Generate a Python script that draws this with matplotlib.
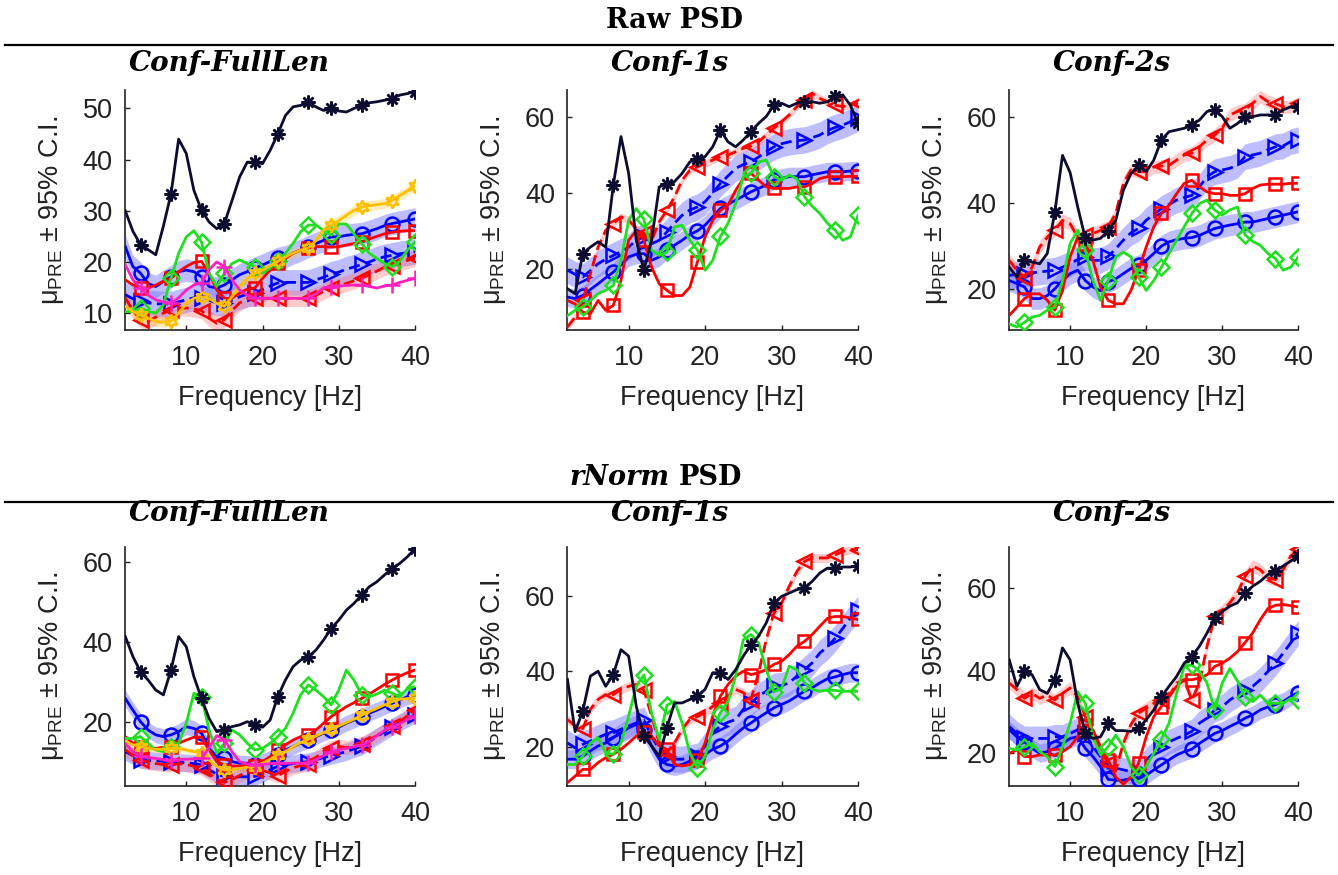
import matplotlib
matplotlib.use("Agg")
import numpy as np
import matplotlib.pyplot as plt
from matplotlib.lines import Line2D

plt.rcParams['font.family'] = ['Liberation Sans', 'DejaVu Sans']
plt.rcParams['mathtext.default'] = 'regular'

# ---------------- data ----------------
freq_hz = [2, 3, 4, 5, 6, 7, 8, 9, 10, 11, 12, 13, 14, 15, 16, 17, 18, 19, 20,
           21, 22, 23, 24, 25, 26, 27, 28, 29, 30, 31, 32, 33, 34, 35, 36, 37,
           38, 39, 40]
marker_freqs = [4, 8, 12, 15, 19, 22, 26, 29, 33, 37, 40]
x_ticks = [10, 20, 30, 40]

section_titles = ['Raw', 'rNorm']
panel_titles = ['Conf-FullLen', 'Conf-1s', 'Conf-2s']

# Raw PSD, Conf-FullLen
raw_full_black = [30, 26, 23.4, 22.4, 21.4, 27, 33.3, 44, 41.2, 34, 30.1, 27.8, 26.5, 27.5, 32, 36.6, 39.5, 39.5, 39.2, 41.8, 45, 48.6, 50.3, 50.6, 51.2, 50.3, 49.6, 50, 49.5, 49.3, 50, 50.6, 51.1, 51.3, 51.6, 51.9, 52.6, 52.9, 53.3]
raw_full_blue_o = [23, 19.1, 17.8, 15.8, 15.2, 16.2, 17.1, 18.1, 18.4, 18.1, 17.1, 15.2, 14.9, 15.5, 16.5, 17.5, 18.1, 18.8, 19.4, 20.1, 20.7, 21, 21.7, 22.3, 23, 23.6, 24.2, 24.9, 24.9, 25.2, 25.4, 25.5, 26, 26.5, 27.1, 27.5, 27.8, 28.1, 28.4]
raw_full_red_sq = [16.5, 15.5, 14.9, 14.9, 15.5, 16.2, 16.8, 18.1, 19.1, 19.9, 20.1, 17.8, 14.5, 12.9, 12.9, 13.9, 14.7, 14.9, 16.8, 18.4, 19.7, 20.7, 21.7, 22.3, 22.7, 23, 23, 22.9, 23, 23.3, 23.6, 23.9, 24.5, 25, 25.5, 25.8, 26, 26.1, 26.1]
raw_full_green = [10.3, 10.3, 11, 10.3, 10, 11.6, 16.8, 21.7, 24.9, 26.1, 23.9, 17.8, 15.2, 17.8, 19.7, 20.4, 19.7, 19.1, 17.8, 18.8, 20.1, 21.7, 23.6, 25.9, 27.2, 27.2, 26.2, 25.2, 27.4, 27.4, 25.5, 23.6, 21.7, 20.7, 19.7, 19.1, 20.1, 22.3, 23.9]
raw_full_yellow = [11.3, 10.3, 9.7, 9, 8.4, 8.2, 8.4, 10, 11.9, 12.9, 13.2, 12.9, 11.9, 11.3, 13.2, 15.2, 16.8, 17.8, 18.4, 19.2, 20.1, 21, 21.7, 22.3, 22.7, 24.2, 26.2, 27.2, 28.1, 29.1, 30.1, 30.7, 31, 31.2, 31.4, 32, 33, 33.9, 34.9]
raw_full_blue_tri = [13.6, 12.8, 12.3, 12, 11.8, 11.8, 11.8, 12.2, 12.6, 13, 13, 12.5, 12, 12, 12.5, 13.2, 13.7, 14, 14.6, 15.3, 15.9, 16, 16, 16, 16, 16.5, 17, 17.6, 18, 18.6, 19, 19.5, 20, 20.6, 21, 21.3, 21.6, 21.8, 22]
raw_full_red_tri = [13, 10.5, 8.7, 8.5, 9.2, 10, 10.6, 11, 11, 10.8, 10.5, 9, 8, 8.7, 10.5, 12, 12.8, 12.9, 12.9, 12.9, 12.9, 12.9, 12.9, 12.9, 12.9, 13.5, 14.2, 14.9, 15.3, 15.8, 16.3, 16.8, 17.5, 18.2, 19, 19.3, 19.8, 20.3, 20.7]
raw_full_magenta = [19.5, 16.5, 14.9, 13.5, 12.6, 12.2, 11.9, 13, 14.5, 15.5, 15.9, 18.5, 20, 19.1, 16.5, 14.5, 13.5, 12.9, 12.9, 12.9, 12.9, 12.9, 12.9, 12.9, 12.9, 13.8, 14.9, 15.2, 15.3, 15.4, 15.5, 15.5, 15.2, 14.9, 15.3, 15.5, 16, 16.4, 16.8]

# Raw PSD, Conf-1s
raw_1s_black = [14.7, 13.4, 24, 25.7, 27.1, 25.7, 42.1, 54.9, 45.2, 27.5, 19.6, 27.5, 41.6, 42.5, 43, 45.2, 48.2, 49.1, 49.6, 52.2, 56.6, 53.5, 52.2, 54, 56.2, 58.4, 60.2, 63.2, 63.7, 62.8, 63.7, 64.1, 64.1, 63.7, 64.1, 65.5, 65.9, 63.2, 58.4]
raw_1s_red_tri = [4.6, 7.2, 11.6, 18.7, 25.7, 30.1, 31.9, 33.7, 32.8, 30.6, 29.3, 27.5, 32.4, 35.4, 39, 43.4, 46, 46.9, 47.8, 48.7, 49.6, 50, 50.9, 51.8, 52.4, 53.5, 55.3, 57.1, 58.8, 60.6, 62.8, 64.6, 66.3, 65, 64.1, 63.2, 62.8, 63.2, 63.7]
raw_1s_blue_tri = [19.6, 18.5, 17.8, 19.5, 21.3, 22.5, 23.5, 24.5, 25.7, 27.5, 28.4, 26.6, 27.5, 29.7, 32, 34.1, 35.5, 36.3, 37.7, 40, 42.5, 44.5, 46.5, 47.5, 48.2, 49.5, 50.9, 52.2, 53, 53.5, 53.8, 54, 54.6, 55.3, 56.5, 57.3, 57.9, 58.8, 59.7]
raw_1s_blue_o = [12.5, 12.1, 12.9, 14.5, 16, 17.6, 19.1, 21, 23.1, 23.8, 24, 22.2, 23.1, 24.9, 26.2, 27.5, 29, 30, 31.5, 33.7, 35.9, 37, 38.1, 39.2, 40.3, 41.2, 42.1, 43.5, 43.9, 44.3, 44.3, 44.3, 44.8, 45.2, 45.6, 45.6, 45.6, 45.8, 45.9]
raw_1s_red_sq = [11.6, 10.7, 8.5, 8.1, 11.6, 9, 10.3, 16.9, 27.5, 30.1, 27.5, 20.4, 16, 14.3, 12.9, 12.9, 15.1, 21.8, 28.4, 32.8, 35.4, 36.8, 40.7, 43.8, 45.2, 43.4, 41.6, 41.2, 41.2, 41.2, 41.6, 41.6, 42.5, 43.8, 44.3, 44.3, 44.3, 44.4, 44.4]
raw_1s_green = [7.6, 9, 9.9, 11.6, 13.4, 14.3, 15.6, 22.2, 32.8, 35.9, 33, 24.9, 23.5, 24.4, 31, 31.5, 27.5, 24.9, 19.6, 22.2, 28.5, 32, 37.2, 44.3, 45.2, 48.2, 48.7, 44.3, 43.4, 44.7, 43.8, 39, 36.5, 34.6, 32, 30.2, 27.5, 28.4, 34.1]

# Raw PSD, Conf-2s
raw_2s_black = [25, 22.7, 26.6, 26.2, 25.8, 28.2, 37.9, 51, 47, 39, 31.7, 31.3, 31.7, 33.5, 35.9, 42.9, 46.8, 48.7, 47.2, 49.9, 54.6, 56.5, 56.9, 57.3, 58.1, 59.2, 61.2, 61.6, 60, 57.3, 58.4, 60, 60, 60.4, 60.4, 60.4, 61.6, 62.3, 62.3]
raw_2s_red_tri = [26.6, 24.3, 22.6, 25, 29.7, 32, 33.6, 35.9, 35.1, 32, 32.4, 32.8, 33.6, 34.4, 37.5, 44.5, 47.6, 47.2, 47.2, 48.3, 48.5, 48.7, 49.9, 51.1, 51.5, 53, 54.6, 55.7, 57.3, 60.4, 61.2, 61.6, 63.1, 64.7, 63.5, 63, 62.3, 62.3, 63.1]
raw_2s_blue_tri = [23.1, 23.3, 23.5, 23.7, 23.9, 24.1, 24.3, 25, 25.8, 26.8, 27.4, 26.6, 26.6, 27.5, 29.3, 31.3, 33, 34, 35.9, 37.3, 38.6, 39.6, 40.6, 41.2, 41.7, 43.7, 46, 47.2, 47.6, 48, 48.7, 50.7, 51.1, 51.5, 52.3, 53, 53.2, 54.2, 54.6]
raw_2s_blue_o = [21.9, 21.2, 20.4, 17.7, 17.7, 18.4, 20, 21.9, 23.5, 24.3, 21.9, 20.4, 19.5, 21.6, 22.3, 23.5, 24.7, 25.4, 26.6, 28.2, 29.9, 30.9, 31.4, 31.7, 31.9, 32.4, 33.2, 34, 34.4, 34.8, 35.1, 35.5, 35.5, 35.9, 36.3, 36.7, 37.1, 37.5, 37.9]
raw_2s_red_sq = [13.8, 15.7, 17.7, 18.8, 18.8, 17.3, 15, 19.6, 27.4, 32, 30.5, 26.6, 20.4, 17.3, 16.5, 16.5, 19.6, 24.3, 29.7, 34.4, 37.5, 39.4, 42.1, 44.5, 45.2, 43.7, 42.5, 42.1, 42.1, 41.7, 41.7, 42.1, 43.3, 44.1, 44.3, 44.3, 44.3, 44.5, 44.5]
raw_2s_green = [11.8, 11.1, 12.2, 13.4, 13.8, 15, 15.7, 21.9, 30.5, 33.6, 28.9, 21.9, 17.3, 21.9, 27.4, 28.5, 27.4, 22.7, 19.6, 21.9, 25, 28.2, 31.3, 34.4, 37.5, 39.8, 40.6, 38.3, 37.1, 38.3, 39, 32.5, 31, 30.1, 28.2, 27, 24.3, 25, 27.4]

# rNorm PSD, Conf-FullLen
rn_full_black = [41.3, 36.3, 32.5, 30.4, 27.9, 26.7, 32.9, 41.3, 38.75, 31.25, 25.8, 20.8, 17.5, 17.9, 18.75, 19.2, 20, 19.2, 18.6, 20.4, 26.25, 30.4, 33.75, 35.4, 36.25, 37.9, 40.4, 43.3, 45.4, 47.9, 49.6, 51.7, 53.75, 55, 56.7, 58.3, 59.6, 61.25, 63.3]
rn_full_blue_o = [25.8, 22.9, 20, 17.9, 16.7, 16.25, 16.7, 17.5, 18.75, 18.3, 17.1, 13.3, 11.25, 10.8, 10, 9.6, 9.6, 9.2, 10, 10.8, 11.7, 12.9, 13.75, 14.6, 15.4, 16.25, 17.1, 17.9, 18.6, 19.6, 20.4, 21.25, 22.1, 22.9, 23.75, 24.6, 25.4, 26.25, 26.7]
rn_full_yellow = [15, 14.2, 13.75, 13.3, 13.1, 13.1, 13.3, 13.3, 12.9, 12.5, 12.1, 10.4, 8.75, 7.9, 7.9, 8.3, 8.6, 8.75, 9.6, 10.6, 11.7, 12.5, 13.75, 14.75, 15.6, 16.4, 17.25, 18.1, 18.9, 19.75, 20.6, 21.6, 22.5, 23.3, 24.2, 25, 25.6, 25.8, 25.8]
rn_full_red_sq = [16.25, 14.6, 13.75, 13.3, 13.3, 13.6, 13.75, 14.6, 15.4, 16.1, 16.1, 12.9, 10, 9.2, 8.9, 8.9, 8.9, 8.9, 10, 11.25, 12.9, 14.2, 15.4, 16.25, 16.7, 17.9, 19.6, 21.25, 22.5, 23.75, 24.75, 25.8, 26.9, 28.1, 29.3, 30.4, 31.4, 32.25, 32.9]
rn_full_green = [15.8, 15.8, 16.25, 14.6, 12.9, 12.5, 13.75, 14.6, 19.6, 27.1, 26.25, 17.9, 12.1, 14.6, 17.9, 16.7, 14.6, 12.9, 13.3, 14.6, 16.25, 18.3, 22.1, 26.7, 29.2, 27.9, 26.25, 24.2, 27.9, 32.9, 30.4, 26.7, 26.25, 26.9, 27.9, 27.1, 26.25, 28.3, 28.75]
rn_full_blue_tri = [12.5, 11.5, 10.5, 10.3, 10.2, 10.1, 10, 9.8, 9.7, 9.5, 9.2, 8, 6.8, 6.3, 6.2, 6.2, 6.2, 6.3, 7, 8, 8.8, 9.2, 9.5, 9.8, 10, 10.5, 11, 11.5, 12, 12.5, 13.2, 13.8, 15, 16.3, 17.5, 18.7, 19.8, 20.8, 21.7]
rn_full_red_tri = [13, 11.5, 10.4, 9.8, 9.5, 9.3, 9.2, 9.5, 9.3, 8.8, 8.4, 7, 5.5, 4.8, 5.5, 6.5, 7.5, 8, 7.8, 7.2, 6.5, 7.5, 8.5, 9, 9.5, 11, 12.5, 13.5, 13.8, 13.5, 14, 14.5, 15.5, 16.5, 17.8, 18.8, 20, 21.5, 23]
rn_full_magenta = [14.5, 12.5, 11.3, 11, 10.8, 10.5, 10.4, 10.5, 10.6, 10.7, 10.8, 13.5, 16.5, 15.5, 12.5, 10, 9.4, 9.2, 9.3, 9.5, 9.6, 9.6, 9.6, 9.6, 9.7, 10.5, 11.5, 12.5, 13, 13.3, 13.7, 14.2, 15, 16.5, 17.8, 18.7, 19.5, 20.5, 21.3]

# rNorm PSD, Conf-1s
rn_1s_black = [37.8, 24, 29.4, 38.7, 40, 36, 39.1, 45.7, 44, 30.7, 22.8, 20.2, 17.5, 25, 31.6, 31.6, 32.5, 33.4, 35.2, 39.6, 39.6, 37.8, 40.4, 44, 47, 49.3, 52.8, 58, 59.8, 60.7, 61.6, 62, 63.8, 66, 67.3, 67.3, 67.6, 67.6, 67.9]
rn_1s_red_tri = [27.2, 25.5, 24.8, 29.9, 32.5, 33.8, 33.8, 35.2, 36, 36.5, 35, 28.1, 21, 18.4, 21, 24.6, 27.2, 28, 29, 30.7, 31.6, 33.4, 35.2, 34.3, 32.5, 39.6, 48.4, 55.4, 58, 62.5, 66.4, 69.1, 70, 70, 70, 70.8, 71.7, 72.2, 72.2]
rn_1s_blue_tri = [21, 19.7, 20.6, 21.5, 22.4, 23.3, 23.7, 24.6, 25.5, 26.3, 27, 22.8, 19.3, 17.5, 16.7, 16.7, 17, 17.5, 20.2, 23.7, 25.5, 26.5, 27.2, 29.9, 31.6, 33.4, 34.7, 36, 36.2, 36.9, 38.7, 40.4, 42.2, 44.8, 46.5, 48.7, 51.3, 54.1, 56.3]
rn_1s_blue_o = [16.7, 16.7, 17.5, 18.9, 20.2, 21, 22.4, 23.7, 25, 25.9, 24.5, 20.2, 16.7, 15.3, 14.9, 15.3, 16.2, 17.1, 18, 19.3, 20.2, 21.5, 23.3, 25, 26.3, 27.7, 29, 30.3, 31.2, 32.1, 33.4, 34.7, 35.6, 36.9, 38, 38.5, 39.1, 39.6, 39.6]
rn_1s_red_sq = [10.5, 12.2, 14, 14, 15.8, 17.1, 18, 19.3, 21, 22.8, 24, 22.8, 20.2, 19.3, 15.3, 14.9, 15.3, 16.5, 21, 28.1, 33.4, 36.5, 38.7, 40, 39.1, 39.6, 40.4, 41.8, 42.6, 44.4, 46.6, 47.9, 49.7, 51.9, 54, 54.5, 54.5, 54.1, 53.7]
rn_1s_green = [15.3, 15.3, 17.5, 21, 22.4, 18.4, 18, 21, 28.1, 36, 39, 29, 21.9, 31, 32, 26.3, 18.4, 14.4, 17.5, 24.6, 29, 32, 38.7, 48.4, 49.7, 47.5, 40.4, 34.5, 35.5, 41.3, 40.4, 36.9, 35.2, 34.7, 35, 34.9, 34.7, 34.7, 34.7]

# rNorm PSD, Conf-2s
rn_2s_black = [42.6, 36.2, 39.8, 39, 35.4, 34.5, 37.8, 45.5, 42.6, 32.1, 24.8, 23.6, 24, 27.3, 25.5, 25.5, 25.3, 26.1, 28.1, 30.5, 33.7, 36.2, 38.6, 41.8, 43.4, 45.9, 49.1, 52.7, 54.3, 55.6, 56.4, 58.8, 60.4, 61.6, 63.2, 64, 65.3, 66.5, 67.7]
rn_2s_red_tri = [37, 35.4, 33.3, 34.5, 33.3, 34.1, 32.9, 34.5, 35.8, 33.7, 28.9, 24, 20.8, 17.6, 16, 22.4, 27, 29.7, 30.9, 32.1, 32.9, 33.7, 37, 37.8, 32.9, 37, 45.9, 53.1, 54.5, 56.4, 58.8, 62.8, 65.3, 64.4, 62.5, 62, 64.4, 67.7, 69.3]
rn_2s_blue_tri = [26.5, 24.8, 23.6, 23.6, 23.6, 23.6, 24, 24, 24.8, 25.7, 24.8, 21.6, 19.2, 16.4, 16.4, 16, 15.6, 15.6, 18.4, 20, 21.6, 22.8, 23.6, 24.4, 25.3, 27.3, 28.5, 30.5, 31.3, 32.9, 34.1, 35.4, 36.2, 37.8, 39.8, 41.8, 44.2, 46.7, 49.1]
rn_2s_blue_o = [25.7, 24, 22.8, 21.2, 20, 20.4, 21.2, 22.4, 23.6, 24, 21.2, 19.2, 16.8, 13.7, 13.5, 13.5, 13.9, 13.9, 14.7, 16, 17.2, 18.4, 19.6, 20.4, 21, 22.4, 23.6, 24.8, 25.5, 26.5, 27.4, 28.5, 29.3, 30.5, 31.2, 31.8, 32.5, 33.7, 34.7]
rn_2s_red_sq = [20, 20.8, 19.2, 19.2, 19.6, 19.6, 19.6, 20.4, 21.6, 24, 26.9, 25.7, 21.6, 18.4, 14.3, 12.5, 14.3, 17.6, 24, 28.9, 31.3, 33.7, 36.2, 37.8, 37.8, 38.2, 39, 41, 41.8, 43, 44.6, 46.8, 49.1, 52.3, 55, 55.8, 56, 55.7, 55.4]
rn_2s_green = [21.2, 20.8, 21.6, 22.4, 20.4, 19.2, 16.8, 21.6, 27.3, 34.9, 32.1, 24, 19.6, 21.6, 24.4, 21.6, 16.8, 14.7, 16.8, 20, 23.4, 27.3, 34.5, 41, 41.4, 39.8, 37, 30.5, 37, 40.5, 37.5, 33.7, 32.5, 34.1, 32.1, 32.1, 32.1, 33.3, 32.9]

# 95% C.I. half-widths of the shaded series
raw_full_ci = {'blue_o': 2.2, 'blue_tri': 2.5, 'red_tri': 1.6, 'yellow': 1.0}
raw_1s_ci = {'blue_o': 2.5, 'blue_tri': 3.5, 'red_tri': 1.0}
raw_2s_ci = {'blue_o': 2.5, 'blue_tri': 3.0, 'red_tri': 1.5}
rn_full_ci = {'blue_o': 2.0, 'blue_tri': 2.2, 'red_tri': 1.8, 'yellow': 0.8}
rn_1s_ci = {'blue_o': 2.5, 'blue_tri': 3.5, 'red_tri': 1.2}
rn_2s_ci = {'blue_o': 2.2, 'blue_tri': 3.0, 'red_tri': 1.5}

raw_full = {'blue_o': raw_full_blue_o, 'blue_tri': raw_full_blue_tri, 'red_tri': raw_full_red_tri,
            'red_sq': raw_full_red_sq, 'green': raw_full_green, 'yellow': raw_full_yellow,
            'magenta': raw_full_magenta, 'black': raw_full_black}
raw_1s = {'blue_o': raw_1s_blue_o, 'blue_tri': raw_1s_blue_tri, 'red_tri': raw_1s_red_tri,
          'red_sq': raw_1s_red_sq, 'green': raw_1s_green, 'black': raw_1s_black}
raw_2s = {'blue_o': raw_2s_blue_o, 'blue_tri': raw_2s_blue_tri, 'red_tri': raw_2s_red_tri,
          'red_sq': raw_2s_red_sq, 'green': raw_2s_green, 'black': raw_2s_black}
rn_full = {'blue_o': rn_full_blue_o, 'blue_tri': rn_full_blue_tri, 'red_tri': rn_full_red_tri,
           'red_sq': rn_full_red_sq, 'green': rn_full_green, 'yellow': rn_full_yellow,
           'magenta': rn_full_magenta, 'black': rn_full_black}
rn_1s = {'blue_o': rn_1s_blue_o, 'blue_tri': rn_1s_blue_tri, 'red_tri': rn_1s_red_tri,
         'red_sq': rn_1s_red_sq, 'green': rn_1s_green, 'black': rn_1s_black}
rn_2s = {'blue_o': rn_2s_blue_o, 'blue_tri': rn_2s_blue_tri, 'red_tri': rn_2s_red_tri,
         'red_sq': rn_2s_red_sq, 'green': rn_2s_green, 'black': rn_2s_black}

# ---------------- styles ----------------
dash = (0, (4, 2))
styles = {
    'blue_o':   dict(color='#0000ff', marker='o', ls='-', ms=10, z=3),
    'blue_tri': dict(color='#0000ff', marker='>', ls=dash, ms=10, z=4),
    'red_tri':  dict(color='#ff0000', marker='<', ls=dash, ms=10, z=5),
    'red_sq':   dict(color='#ff0000', marker='s', ls='-', ms=8.5, z=6),
    'green':    dict(color='#1ee01e', marker='D', ls='-', ms=8, z=7),
    'yellow':   dict(color='#ffc000', marker=(6, 1, 0), ls='-', ms=10, z=8),
    'magenta':  dict(color='#ff20c0', marker='+', ls='-', ms=11, z=9),
    'black':    dict(color='#0c0c30', marker=(8, 2, 0), ls='-', ms=10, z=10),
}
band_style = {
    'blue_o':   dict(color='#7c7cff', alpha=0.5),
    'blue_tri': dict(color='#7c7cff', alpha=0.5),
    'red_tri':  dict(color='#ff6a6a', alpha=0.35),
    'yellow':   dict(color='#ffd040', alpha=0.35),
}

W, H = 1338, 875
fig = plt.figure(figsize=(W / 100, H / 100), dpi=100)

col_left = [124.5, 566.7, 1008.5]
col_right = [415, 858, 1298.3]
row_top = [90, 547]
row_bottom = [330, 786]
title_x = [229, 670, 1112]

panels = [
    (0, 0, raw_full, raw_full_ci, (6.7, 53.6), [10, 20, 30, 40, 50]),
    (0, 1, raw_1s, raw_1s_ci, (3.8, 67.2), [20, 40, 60]),
    (0, 2, raw_2s, raw_2s_ci, (10.4, 66.2), [20, 40, 60]),
    (1, 0, rn_full, rn_full_ci, (3.9, 63.7), [20, 40, 60]),
    (1, 1, rn_1s, rn_1s_ci, (9.6, 72.9), [20, 40, 60]),
    (1, 2, rn_2s, rn_2s_ci, (12.1, 69.9), [20, 40, 60]),
]

x = np.array(freq_hz, dtype=float)
mark_idx = [freq_hz.index(f) for f in marker_freqs]
FS = 19.5

for row, col, series, ci, ylim, yticks in panels:
    l, r = col_left[col], col_right[col]
    t, b = row_top[row], row_bottom[row]
    ax = fig.add_axes([l / W, 1 - b / H, (r - l) / W, (b - t) / H])
    for key in ['blue_o', 'blue_tri', 'red_tri', 'yellow']:
        if key in ci and key in series:
            y = np.array(series[key], dtype=float)
            ax.fill_between(x, y - ci[key], y + ci[key], lw=0, zorder=1,
                            **band_style[key])
    for key in ['blue_o', 'blue_tri', 'red_tri', 'red_sq', 'green', 'yellow', 'magenta', 'black']:
        if key not in series:
            continue
        s = styles[key]
        ax.plot(x, series[key], color=s['color'], ls=s['ls'], lw=2.0,
                marker=s['marker'], ms=s['ms'], mfc='none', mec=s['color'],
                mew=1.8, markevery=mark_idx, zorder=s['z'],
                solid_joinstyle='round')
    ax.set_xlim(1.9, 40)
    ax.set_ylim(*ylim)
    ax.set_xticks(x_ticks)
    ax.set_yticks(yticks)
    for sp in ['top', 'right']:
        ax.spines[sp].set_visible(False)
    for sp in ['left', 'bottom']:
        ax.spines[sp].set_linewidth(1.2)
        ax.spines[sp].set_color('#222222')
    ax.tick_params(axis='x', direction='in', length=3.5, width=1, labelsize=FS,
                   pad=10.5, colors='#222222')
    ax.tick_params(axis='y', direction='in', length=3.5, width=1, labelsize=FS,
                   pad=8.5, colors='#222222')
    # axis labels
    fig.text((l + r) / 2 / W, 1 - (b + 75) / H, 'Frequency [Hz]', ha='center',
             va='baseline', fontsize=FS, color='#222222')
    fig.text((l - 73) / W, 1 - ((t + b) / 2) / H,
             'μ$_{\\mathregular{PRE}}$ ± 95% C.I.', rotation=90, ha='center',
             va='center', fontsize=FS, color='#222222')
    # panel title
    title_base = [71, 521.5][row]
    fig.text(title_x[col] / W, 1 - title_base / H, panel_titles[col], ha='center',
             va='baseline', fontsize=20, family='DejaVu Serif', weight='bold',
             style='italic')

# section headers
fig.text(675 / W, 1 - 27.5 / H, section_titles[0] + ' PSD', ha='center', va='baseline',
         fontsize=19.5, family='DejaVu Serif', weight='bold')
fig.text(670 / W, 1 - 485 / H, section_titles[1], ha='right', va='baseline',
         fontsize=19.5, family='DejaVu Serif', weight='bold', style='italic')
fig.text(679 / W, 1 - 485 / H, 'PSD', ha='left', va='baseline',
         fontsize=19.5, family='DejaVu Serif', weight='bold')
for yl in [44.5, 501.5]:
    fig.add_artist(Line2D([5 / W, 1333 / W], [1 - yl / H, 1 - yl / H],
                          color='black', lw=1.6))

fig.savefig('out.png', dpi=100)
